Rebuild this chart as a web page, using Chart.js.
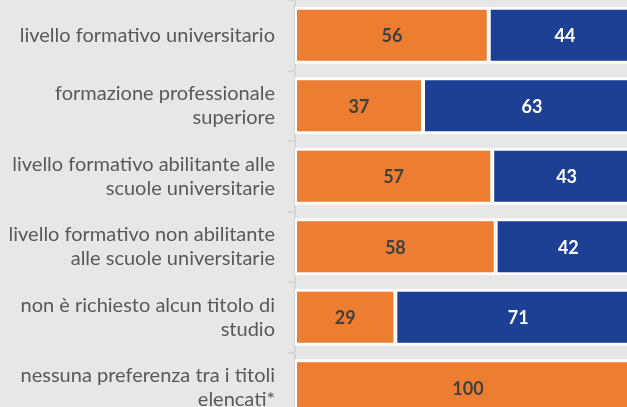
<!DOCTYPE html>
<html>
<head>
<meta charset="utf-8">
<script src="https://cdn.jsdelivr.net/npm/chart.js@4"></script>
<style>
  html, body { margin: 0; padding: 0; background: #e7e7e7; overflow: hidden; }
  #wrap { position: relative; width: 641px; height: 423px; }
</style>
</head>
<body>
<div id="wrap"><canvas id="myChart"></canvas></div>
<script>
// categorie (asse verticale)
const categorie = [
    'livello formativo universitario',
    ['formazione professionale', 'superiore'],
    ['livello formativo abilitante alle', 'scuole universitarie'],
    ['livello formativo non abilitante', 'alle scuole universitarie'],
    ['non è richiesto alcun titolo di', 'studio'],
    ['nessuna preferenza tra i titoli', 'elencati*']
];
// valori in percentuale
const serieArancio = [56, 37, 57, 58, 29, 100];
const serieBlu = [44, 63, 43, 42, 71, 0];

const coloreArancio = '#ED7D31';
const coloreBlu = '#1D3F94';
const fontTesto = 'Lato, "Open Sans", sans-serif';

// plugin semplice per scrivere i valori dentro le barre
const etichetteValori = {
    id: 'etichetteValori',
    afterDatasetsDraw(chart) {
        const ctx = chart.ctx;
        ctx.save();
        ctx.font = 'bold 18px ' + fontTesto;
        ctx.textAlign = 'center';
        ctx.textBaseline = 'middle';
        chart.data.datasets.forEach((ds, i) => {
            const meta = chart.getDatasetMeta(i);
            meta.data.forEach((bar, j) => {
                const v = ds.data[j];
                if (!v) return;
                const x = (bar.base + bar.x) / 2;
                ctx.fillStyle = ds.coloreEtichetta;
                ctx.fillText(v, x, bar.y + 1);
            });
        });
        ctx.restore();
    }
};

const ctx = document.getElementById('myChart').getContext('2d');
const myChart = new Chart(ctx, {
    type: 'bar',
    data: {
        labels: categorie,
        datasets: [{
            data: serieArancio,
            backgroundColor: coloreArancio,
            borderColor: '#ffffff',
            borderWidth: { top: 3, bottom: 3, left: 2, right: 2 },
            borderSkipped: false,
            coloreEtichetta: '#404040',
            barPercentage: 0.81,
            categoryPercentage: 1
        }, {
            data: serieBlu,
            backgroundColor: coloreBlu,
            borderColor: '#ffffff',
            borderWidth: { top: 3, bottom: 3, left: 2, right: 2 },
            borderSkipped: false,
            coloreEtichetta: '#ffffff',
            barPercentage: 0.81,
            categoryPercentage: 1
        }]
    },
    options: {
        indexAxis: 'y',
        responsive: true,
        maintainAspectRatio: false,
        animation: false,
        layout: { padding: 0 },
        plugins: {
            legend: { display: false },
            tooltip: { enabled: false }
        },
        scales: {
            x: {
                stacked: true,
                min: 0,
                max: 100,
                display: false
            },
            y: {
                stacked: true,
                afterFit(scale) {
                    scale.width = 295;
                    // niente spazio extra sopra e sotto
                    scale.paddingTop = 0;
                    scale.paddingBottom = 0;
                },
                border: { display: true, color: '#d6d6d6', width: 2 },
                grid: {
                    offset: true,
                    drawOnChartArea: false,
                    drawTicks: true,
                    tickLength: 7,
                    color: '#d6d6d6',
                    lineWidth: 2
                },
                ticks: {
                    color: '#595959',
                    padding: 13,
                    font: { family: fontTesto, size: 20, lineHeight: 1.2 }
                }
            }
        }
    },
    plugins: [etichetteValori]
});
</script>
</body>
</html>
